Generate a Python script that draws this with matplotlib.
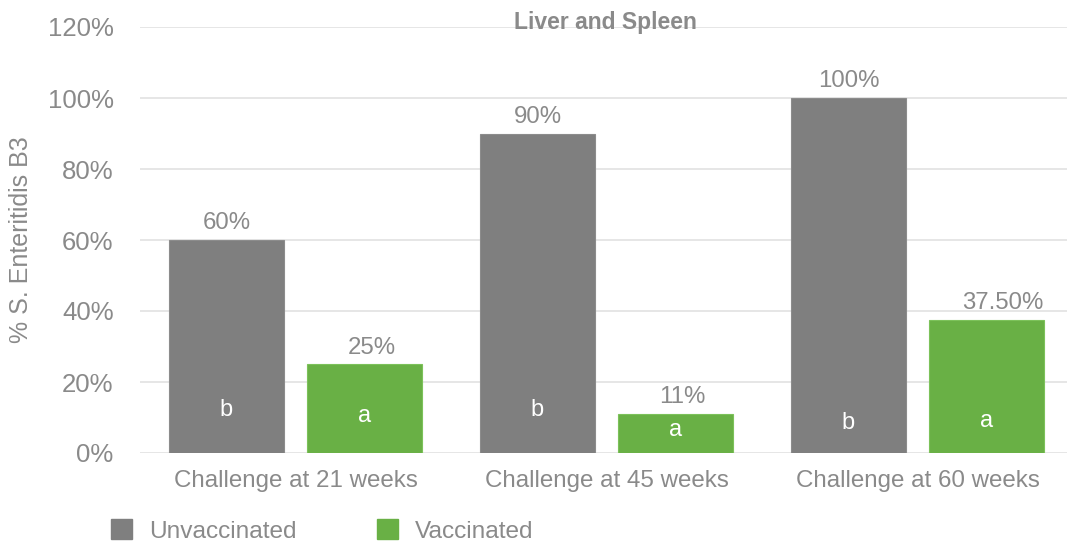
import numpy as np
import matplotlib
matplotlib.use("Agg")
import matplotlib.pyplot as plt
from matplotlib.patches import Patch

# --------------------------------------------------
# Data
# --------------------------------------------------
groups = ["Challenge at 21 weeks", "Challenge at 45 weeks", "Challenge at 60 weeks"]
unvaccinated = [0.60, 0.90, 1.00]
vaccinated = [0.25, 0.11, 0.375]
unvacc_labels = ["60%", "90%", "100%"]
vacc_labels = ["25%", "11%", "37.50%"]
unvacc_letters = ["b", "b", "b"]
vacc_letters = ["a", "a", "a"]
# heights where the significance letters sit inside the bars
unvacc_letter_y = [0.12, 0.12, 0.085]
vacc_letter_y = [0.103, 0.065, 0.09]

GRAY = "#7f7f7f"
GREEN = "#69b045"
TEXT = "#8a8a8a"

plt.rcParams["font.family"] = ["Liberation Sans", "DejaVu Sans"]

fig = plt.figure(figsize=(10.67, 5.43), dpi=100)
ax = fig.add_axes([140 / 1067, 1 - 453 / 543, 933 / 1067, (453 - 27) / 543])

x = np.arange(len(groups))
width = 0.367
offset = 0.222

bars_u = ax.bar(x - offset, unvaccinated, width, color=GRAY,
                edgecolor="#8c8c8c", linewidth=0.8, zorder=3)
bars_v = ax.bar(x + offset, vaccinated, width, color=GREEN,
                edgecolor="#7cc25a", linewidth=0.8, zorder=3)

# value labels above the bars
for bar, lab in zip(bars_u, unvacc_labels):
    ax.annotate(lab, (bar.get_x() + bar.get_width() / 2, bar.get_height()),
                xytext=(0, 4), textcoords="offset points",
                ha="center", va="bottom", fontsize=17.3, color=TEXT)
for i, (bar, lab) in enumerate(zip(bars_v, vacc_labels)):
    if i == len(bars_v) - 1:
        xpos, ha = bar.get_x() + bar.get_width(), "right"
    else:
        xpos, ha = bar.get_x() + bar.get_width() / 2 + 0.022, "center"
    ax.annotate(lab, (xpos, bar.get_height()),
                xytext=(0, 4), textcoords="offset points",
                ha=ha, va="bottom", fontsize=17.3, color=TEXT)

# significance letters
for bar, let, yy in zip(bars_u, unvacc_letters, unvacc_letter_y):
    ax.text(bar.get_x() + bar.get_width() / 2, yy, let,
            ha="center", va="center", fontsize=17, color="white", zorder=4)
for bar, let, yy in zip(bars_v, vacc_letters, vacc_letter_y):
    ax.text(bar.get_x() + bar.get_width() / 2, yy, let,
            ha="center", va="center", fontsize=17, color="white", zorder=4)

ax.set_xlim(-0.5, 2.5)
ax.set_ylim(0, 1.2)
ax.set_yticks(np.arange(0, 1.21, 0.2))
ax.set_yticklabels([f"{int(round(v * 100))}%" for v in np.arange(0, 1.21, 0.2)])
ax.set_xticks(x)
ax.set_xticklabels(groups)
ax.tick_params(axis="y", length=0, pad=19, labelsize=18.5, labelcolor=TEXT)
ax.tick_params(axis="x", length=0, pad=12, labelsize=17.4, labelcolor=TEXT)

ax.grid(axis="y", color="#e2e2e2", linewidth=1.2, zorder=0)
ax.set_axisbelow(True)
for s in ax.spines.values():
    s.set_visible(False)

ax.set_ylabel("% S. Enteritidis B3", fontsize=18, color=TEXT)
ax.yaxis.set_label_coords(-107 / 933, 0.5)

fig.text(605 / 1067, 1 - 23 / 543, "Liver and Spleen", ha="center", va="center",
         fontsize=16.5, fontweight="bold", color=TEXT)

handles = [Patch(facecolor=GRAY, edgecolor=GRAY), Patch(facecolor=GREEN, edgecolor=GREEN)]
fig.legend(handles, ["Unvaccinated", "Vaccinated"], loc="center left",
           bbox_to_anchor=(89 / 1067, 1 - 531 / 543), ncol=2, frameon=False,
           fontsize=17.6, labelcolor=TEXT, handlelength=0.85, handleheight=0.85,
           handletextpad=0.7, columnspacing=3.3)

fig.savefig("out.png", dpi=100)
